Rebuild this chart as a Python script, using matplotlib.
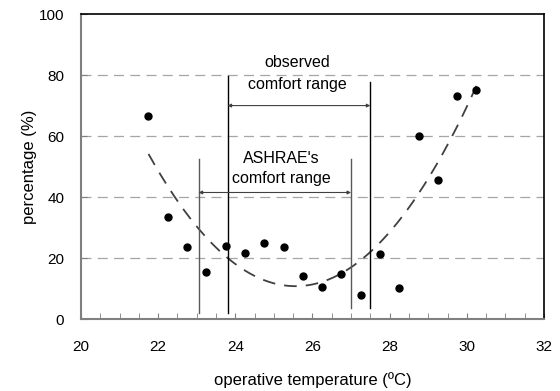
import numpy as np
import matplotlib.pyplot as plt

plt.rcParams['font.family'] = ['Liberation Sans', 'DejaVu Sans']

# survey points
temp = [21.75, 22.25, 22.75, 23.25, 23.75, 24.25, 24.75, 25.25, 25.75,
        26.25, 26.75, 27.25, 27.75, 28.25, 28.75, 29.25, 29.75, 30.25]
pct = [66.6, 33.5, 23.6, 15.5, 24.0, 21.7, 24.8, 23.6, 14.1,
       10.6, 14.9, 8.0, 21.3, 10.1, 60.0, 45.5, 73.2, 75.0]

# comfort ranges (lower, upper)
ashrae = [23.05, 27.0]
observed = [23.8, 27.5]

fig = plt.figure(figsize=(5.6, 3.91), dpi=100)
ax = fig.add_axes([0.1446, 0.184, 0.8268, 0.78])

# grid
for g in [20, 40, 60, 80]:
    ax.axhline(g, color='#a6a6a6', lw=0.9, ls=(0, (8, 5)), zorder=0)

# quadratic trendline
c = np.polyfit(temp, pct, 2)
xs = np.linspace(min(temp), max(temp), 200)
ax.plot(xs, np.polyval(c, xs), color='#404040', lw=1.3, ls=(0, (7, 5)), zorder=2)

ax.plot(temp, pct, 'o', color='black', ms=5, zorder=3)

# ASHRAE range
ax.plot([ashrae[0]] * 2, [2, 52.5], color='#595959', lw=1)
ax.plot([ashrae[1]] * 2, [3.5, 52.5], color='#595959', lw=1)
ax.annotate('', xy=(ashrae[0], 41.5), xytext=(ashrae[1], 41.5),
            arrowprops=dict(arrowstyle='<|-|>', color='#404040', lw=0.8,
                            shrinkA=0, shrinkB=0, mutation_scale=5))
ax.text(25.2, 49.3, "ASHRAE's\ncomfort range", ha='center', va='center',
        fontsize=11.5, linespacing=1.4)

# observed range
ax.plot([observed[0]] * 2, [2, 79.7], color='black', lw=1)
ax.plot([observed[1]] * 2, [3.5, 77.8], color='black', lw=1)
ax.annotate('', xy=(observed[0], 70), xytext=(observed[1], 70),
            arrowprops=dict(arrowstyle='<|-|>', color='#404040', lw=0.8,
                            shrinkA=0, shrinkB=0, mutation_scale=5))
ax.text(25.6, 80.5, "observed\ncomfort range", ha='center', va='center',
        fontsize=11.5, linespacing=1.6)

ax.set_xlim(20, 32)
ax.set_ylim(0, 100)
ax.set_xticks(range(20, 33, 2))
ax.set_xticks(np.arange(20, 32.01, 0.5), minor=True)
ax.set_yticks(range(0, 101, 20))
ax.tick_params(axis='x', which='both', direction='in', length=4, color='#808080',
               labelsize=11, pad=15)
ax.tick_params(axis='y', direction='in', length=4, color='#808080', labelsize=11, pad=12)

for s in ['left', 'bottom']:
    ax.spines[s].set_color('#808080')
    ax.spines[s].set_linewidth(1.5)
for s in ['top', 'right']:
    ax.spines[s].set_color('black')
    ax.spines[s].set_linewidth(1.2)

ax.set_xlabel('operative temperature (ºC)', fontsize=12, labelpad=13)
ax.set_ylabel('percentage (%)', fontsize=12, labelpad=1)

fig.savefig('out.png', dpi=100)
